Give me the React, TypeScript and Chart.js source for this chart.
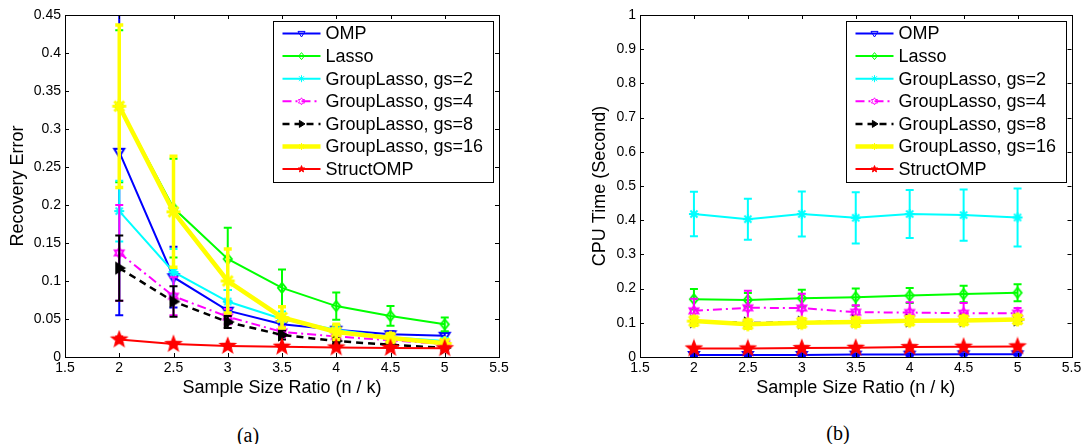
import React, { useEffect, useRef } from 'react';
import { Chart, registerables } from 'chart.js';

Chart.register(...registerables);

// ---------------- data ----------------
const ratios = [2, 2.5, 3, 3.5, 4, 4.5, 5];
const seriesNames = [
  'OMP',
  'Lasso',
  'GroupLasso, gs=2',
  'GroupLasso, gs=4',
  'GroupLasso, gs=8',
  'GroupLasso, gs=16',
  'StructOMP',
];
const xTickValues = [1.5, 2, 2.5, 3, 3.5, 4, 4.5, 5, 5.5];
const xTickLabels = ['1.5', '2', '2.5', '3', '3.5', '4', '4.5', '5', '5.5'];
const errYTickValues = [0, 0.05, 0.1, 0.15, 0.2, 0.25, 0.3, 0.35, 0.4, 0.45];
const errYTickLabels = ['0', '0.05', '0.1', '0.15', '0.2', '0.25', '0.3', '0.35', '0.4', '0.45'];
const timeYTickValues = [0, 0.1, 0.2, 0.3, 0.4, 0.5, 0.6, 0.7, 0.8, 0.9, 1];
const timeYTickLabels = ['0', '0.1', '0.2', '0.3', '0.4', '0.5', '0.6', '0.7', '0.8', '0.9', '1'];

// (a) recovery error: means and error-bar half lengths
const errOMP = [0.27, 0.105, 0.061, 0.043, 0.036, 0.03, 0.028];
const errOMPStd = [0.215, 0.04, 0.012, 0.008, 0.006, 0.004, 0.004];
const errLasso = [0.33, 0.196, 0.129, 0.091, 0.067, 0.054, 0.043];
const errLassoStd = [0.1, 0.065, 0.041, 0.024, 0.018, 0.013, 0.009];
const errGL2 = [0.192, 0.112, 0.073, 0.05, 0.036, 0.026, 0.021];
const errGL2Std = [0.04, 0.03, 0.015, 0.01, 0.006, 0.004, 0.004];
const errGL4 = [0.137, 0.08, 0.053, 0.033, 0.027, 0.022, 0.017];
const errGL4Std = [0.063, 0.025, 0.01, 0.007, 0.005, 0.004, 0.003];
const errGL8 = [0.117, 0.073, 0.046, 0.029, 0.021, 0.016, 0.012];
const errGL8Std = [0.043, 0.02, 0.008, 0.006, 0.004, 0.003, 0.003];
const errGL16 = [0.33, 0.191, 0.1, 0.052, 0.033, 0.025, 0.018];
const errGL16Std = [0.107, 0.073, 0.042, 0.014, 0.01, 0.006, 0.004];
const errStruct = [0.023, 0.017, 0.0145, 0.0135, 0.0125, 0.012, 0.0115];
const errStructStd = [0.004, 0.002, 0.002, 0.002, 0.002, 0.002, 0.002];

// (b) CPU time
const timeOMP = [0.006, 0.006, 0.006, 0.007, 0.007, 0.008, 0.008];
const timeOMPStd = [0.003, 0.003, 0.003, 0.003, 0.003, 0.003, 0.003];
const timeLasso = [0.169, 0.167, 0.172, 0.175, 0.18, 0.184, 0.188];
const timeLassoStd = [0.03, 0.02, 0.025, 0.025, 0.022, 0.024, 0.025];
const timeGL2 = [0.418, 0.403, 0.418, 0.407, 0.418, 0.415, 0.408];
const timeGL2Std = [0.065, 0.06, 0.066, 0.075, 0.07, 0.075, 0.085];
const timeGL4 = [0.135, 0.144, 0.143, 0.131, 0.13, 0.128, 0.128];
const timeGL4Std = [0.035, 0.05, 0.042, 0.02, 0.03, 0.03, 0.015];
const timeGL8 = [0.104, 0.099, 0.101, 0.104, 0.106, 0.107, 0.109];
const timeGL8Std = [0.008, 0.008, 0.008, 0.008, 0.008, 0.008, 0.008];
const timeGL16 = [0.105, 0.096, 0.1, 0.102, 0.106, 0.107, 0.11];
const timeGL16Std = [0.012, 0.012, 0.012, 0.012, 0.012, 0.012, 0.012];
const timeStruct = [0.025, 0.025, 0.026, 0.027, 0.029, 0.03, 0.031];
const timeStructStd = [0.004, 0.004, 0.004, 0.004, 0.004, 0.004, 0.004];

// ---------------- styles ----------------
const FONT = "'Liberation Sans', Arial, Helvetica, sans-serif";

type Style = { color: string; width: number; dash: number[]; marker: string; mSize: number; mFill: boolean };
const styles: Style[] = [
  { color: '#0000ff', width: 2, dash: [], marker: 'triDown', mSize: 5, mFill: false },
  { color: '#00ff00', width: 2, dash: [], marker: 'diamond', mSize: 5, mFill: false },
  { color: '#00ffff', width: 2, dash: [], marker: 'asterisk', mSize: 5, mFill: false },
  { color: '#ff00ff', width: 2, dash: [9, 4, 2, 4], marker: 'hexagram', mSize: 5, mFill: false },
  { color: '#000000', width: 2.5, dash: [7, 5], marker: 'triRight', mSize: 5, mFill: true },
  { color: '#ffff00', width: 4.5, dash: [], marker: 'asterisk', mSize: 7, mFill: false },
  { color: '#ff0000', width: 2, dash: [], marker: 'pentagram', mSize: 7, mFill: true },
];

function shapePath(ctx: CanvasRenderingContext2D, shape: string, cx: number, cy: number, r: number) {
  ctx.beginPath();
  if (shape === 'triDown') {
    ctx.moveTo(cx - r, cy - r * 0.6);
    ctx.lineTo(cx + r, cy - r * 0.6);
    ctx.lineTo(cx, cy + r);
    ctx.closePath();
  } else if (shape === 'triRight') {
    ctx.moveTo(cx - r * 0.6, cy - r);
    ctx.lineTo(cx + r, cy);
    ctx.lineTo(cx - r * 0.6, cy + r);
    ctx.closePath();
  } else if (shape === 'diamond') {
    ctx.moveTo(cx, cy - r);
    ctx.lineTo(cx + r * 0.8, cy);
    ctx.lineTo(cx, cy + r);
    ctx.lineTo(cx - r * 0.8, cy);
    ctx.closePath();
  } else if (shape === 'pentagram') {
    for (let k = 0; k < 10; k++) {
      const a = -Math.PI / 2 + (k * Math.PI) / 5;
      const rad = k % 2 ? r * 0.42 : r;
      const px = cx + rad * Math.cos(a);
      const py = cy + rad * Math.sin(a);
      if (k === 0) ctx.moveTo(px, py);
      else ctx.lineTo(px, py);
    }
    ctx.closePath();
  } else if (shape === 'hexagram') {
    for (let k = 0; k < 12; k++) {
      const a = -Math.PI / 2 + (k * Math.PI) / 6;
      const rad = k % 2 ? r * 0.58 : r;
      const px = cx + rad * Math.cos(a);
      const py = cy + rad * Math.sin(a);
      if (k === 0) ctx.moveTo(px, py);
      else ctx.lineTo(px, py);
    }
    ctx.closePath();
  } else if (shape === 'asterisk') {
    for (let k = 0; k < 4; k++) {
      const a = (k * Math.PI) / 4;
      ctx.moveTo(cx - r * Math.cos(a), cy - r * Math.sin(a));
      ctx.lineTo(cx + r * Math.cos(a), cy + r * Math.sin(a));
    }
  }
}

function drawMarker(ctx: CanvasRenderingContext2D, st: Style, cx: number, cy: number, r: number, lw: number, fill: boolean) {
  ctx.save();
  ctx.setLineDash([]);
  ctx.strokeStyle = st.color;
  ctx.fillStyle = st.color;
  ctx.lineWidth = lw;
  ctx.lineJoin = 'miter';
  shapePath(ctx, st.marker, cx, cy, r);
  if (fill && st.marker !== 'asterisk') ctx.fill();
  ctx.stroke();
  ctx.restore();
}

function markerCanvas(st: Style): HTMLCanvasElement {
  const lw = st.marker === 'asterisk' ? (st.width > 3 ? 3 : 2) : 2;
  const size = Math.ceil(2 * st.mSize + lw + 4);
  const c = document.createElement('canvas');
  c.width = size;
  c.height = size;
  const ctx = c.getContext('2d')!;
  drawMarker(ctx, st, size / 2, size / 2, st.mSize, lw, st.mFill);
  return c;
}

// ---------------- plugins ----------------
const errorBarPlugin = {
  id: 'errorBars',
  beforeDatasetDraw(chart: any, args: any) {
    const ds = chart.data.datasets[args.index];
    const meta = args.meta;
    const ys = chart.scales.y;
    const ctx = chart.ctx as CanvasRenderingContext2D;
    const area = chart.chartArea;
    const cap = 4;
    ctx.save();
    ctx.beginPath();
    ctx.rect(area.left, area.top, area.right - area.left, area.bottom - area.top);
    ctx.clip();
    ctx.strokeStyle = ds.borderColor;
    ctx.lineWidth = ds.borderWidth > 3 ? 3.5 : 2;
    ctx.setLineDash([]);
    meta.data.forEach((pt: any, j: number) => {
      const m = ds.data[j].y;
      const e = ds.errors[j];
      const x = pt.x;
      const yt = ys.getPixelForValue(m + e);
      const yb = ys.getPixelForValue(m - e);
      ctx.beginPath();
      ctx.moveTo(x, yt);
      ctx.lineTo(x, yb);
      ctx.moveTo(x - cap, yt);
      ctx.lineTo(x + cap, yt);
      ctx.moveTo(x - cap, yb);
      ctx.lineTo(x + cap, yb);
      ctx.stroke();
    });
    ctx.restore();
  },
};

const framePlugin = {
  id: 'frame',
  afterDraw(chart: any) {
    const ctx = chart.ctx as CanvasRenderingContext2D;
    const { left, right, top, bottom } = chart.chartArea;
    const xs = chart.scales.x;
    const ys = chart.scales.y;
    const tl = 4;
    ctx.save();
    ctx.strokeStyle = '#000';
    ctx.lineWidth = 1;
    ctx.setLineDash([]);
    ctx.beginPath();
    xs.ticks.forEach((t: any) => {
      const x = Math.round(xs.getPixelForValue(t.value)) + 0.5;
      ctx.moveTo(x, bottom);
      ctx.lineTo(x, bottom - tl);
      ctx.moveTo(x, top);
      ctx.lineTo(x, top + tl);
    });
    ys.ticks.forEach((t: any) => {
      const y = Math.round(ys.getPixelForValue(t.value)) + 0.5;
      ctx.moveTo(left, y);
      ctx.lineTo(left + tl, y);
      ctx.moveTo(right, y);
      ctx.lineTo(right - tl, y);
    });
    ctx.stroke();
    ctx.strokeRect(Math.round(left) + 0.5, Math.round(top) + 0.5, Math.round(right - left), Math.round(bottom - top));

    // legend
    const lx = Math.round(right) - 226 + 0.5;
    const ly = Math.round(top) + 6 + 0.5;
    const lwid = 220;
    const lh = 161;
    ctx.fillStyle = '#fff';
    ctx.fillRect(lx, ly, lwid, lh);
    ctx.strokeRect(lx, ly, lwid, lh);
    ctx.font = `18px ${FONT}`;
    ctx.textBaseline = 'middle';
    ctx.textAlign = 'left';
    seriesNames.forEach((name, i) => {
      const st = styles[i];
      const cy = ly + 12 + i * 22.6;
      ctx.save();
      ctx.strokeStyle = st.color;
      ctx.lineWidth = st.width;
      ctx.setLineDash(st.dash);
      ctx.beginPath();
      ctx.moveTo(lx + 9, cy);
      ctx.lineTo(lx + 47, cy);
      ctx.stroke();
      ctx.restore();
      drawMarker(ctx, st, lx + 28, cy, 3.5, 1, st.marker === 'pentagram' || st.marker === 'triRight');
      ctx.fillStyle = '#000';
      ctx.fillText(name, lx + 52, cy + 1);
    });
    ctx.restore();
  },
};

// ---------------- chart builder ----------------
function buildChart(
  canvas: HTMLCanvasElement,
  means: number[][],
  stds: number[][],
  yTicks: number[],
  yLabels: string[],
  yMax: number,
  yTitle: string,
  yAxisWidth: number,
  padRight: number
) {
  const datasets = seriesNames.map((name, i) => ({
    label: name,
    data: ratios.map((x, j) => ({ x, y: means[i][j] })),
    errors: stds[i],
    borderColor: styles[i].color,
    backgroundColor: styles[i].color,
    borderWidth: styles[i].width,
    borderDash: styles[i].dash,
    pointStyle: markerCanvas(styles[i]),
    pointRadius: styles[i].mSize,
    tension: 0,
    order: seriesNames.length - i,
  }));
  return new Chart(canvas, {
    type: 'line',
    data: { datasets } as any,
    plugins: [errorBarPlugin, framePlugin],
    options: {
      animation: false,
      responsive: false,
      devicePixelRatio: 1,
      layout: { padding: { top: 15, right: padRight, bottom: 0, left: 0 } },
      plugins: { legend: { display: false }, tooltip: { enabled: false } },
      scales: {
        x: {
          type: 'linear',
          min: 1.5,
          max: 5.5,
          afterBuildTicks: (s: any) => {
            s.ticks = xTickValues.map((v) => ({ value: v }));
          },
          afterFit: (s: any) => {
            s.height = 43;
            s.paddingLeft = 0;
            s.paddingRight = 0;
          },
          grid: { display: false, drawTicks: false },
          border: { display: false },
          ticks: {
            autoSkip: false,
            maxRotation: 0,
            padding: 3,
            color: '#000',
            font: { family: FONT, size: 14 },
            callback: (_v: any, idx: number) => xTickLabels[idx],
          },
          title: {
            display: true,
            text: 'Sample Size Ratio (n / k)',
            color: '#000',
            font: { family: FONT, size: 18 },
            padding: { top: 0, bottom: 1 },
          },
        },
        y: {
          type: 'linear',
          min: 0,
          max: yMax,
          afterBuildTicks: (s: any) => {
            s.ticks = yTicks.map((v) => ({ value: v }));
          },
          afterFit: (s: any) => {
            s.width = yAxisWidth;
          },
          grid: { display: false, drawTicks: false },
          border: { display: false },
          ticks: {
            autoSkip: false,
            padding: 4,
            color: '#000',
            font: { family: FONT, size: 14 },
            callback: (_v: any, idx: number) => yLabels[idx],
          },
          title: {
            display: true,
            text: yTitle,
            color: '#000',
            font: { family: FONT, size: 18 },
            padding: { top: 7, bottom: 0 },
          },
        },
      },
    } as any,
  });
}

export default function App() {
  const leftRef = useRef<HTMLCanvasElement>(null);
  const rightRef = useRef<HTMLCanvasElement>(null);

  useEffect(() => {
    const c1 = buildChart(
      leftRef.current!,
      [errOMP, errLasso, errGL2, errGL4, errGL8, errGL16, errStruct],
      [errOMPStd, errLassoStd, errGL2Std, errGL4Std, errGL8Std, errGL16Std, errStructStd],
      errYTickValues,
      errYTickLabels,
      0.45,
      'Recovery Error',
      65,
      21
    );
    const c2 = buildChart(
      rightRef.current!,
      [timeOMP, timeLasso, timeGL2, timeGL4, timeGL8, timeGL16, timeStruct],
      [timeOMPStd, timeLassoStd, timeGL2Std, timeGL4Std, timeGL8Std, timeGL16Std, timeStructStd],
      timeYTickValues,
      timeYTickLabels,
      1,
      'CPU Time (Second)',
      58,
      9
    );
    return () => {
      c1.destroy();
      c2.destroy();
    };
  }, []);

  const caption: React.CSSProperties = {
    position: 'absolute',
    width: 60,
    textAlign: 'center',
    fontFamily: "'Liberation Serif', 'Times New Roman', serif",
    fontSize: 20,
    lineHeight: '22px',
    color: '#000',
  };

  return (
    <div style={{ position: 'absolute', left: 0, top: 0, width: 1083, height: 444, background: '#fff', overflow: 'hidden' }}>
      <canvas ref={leftRef} width={520} height={400} style={{ position: 'absolute', left: 0, top: 0, width: 520, height: 400 }} />
      <canvas ref={rightRef} width={501} height={400} style={{ position: 'absolute', left: 582, top: 0, width: 501, height: 400 }} />
      <div style={{ ...caption, left: 248 - 30, top: 424 }}>(a)</div>
      <div style={{ ...caption, left: 838 - 30, top: 422 }}>(b)</div>
    </div>
  );
}
